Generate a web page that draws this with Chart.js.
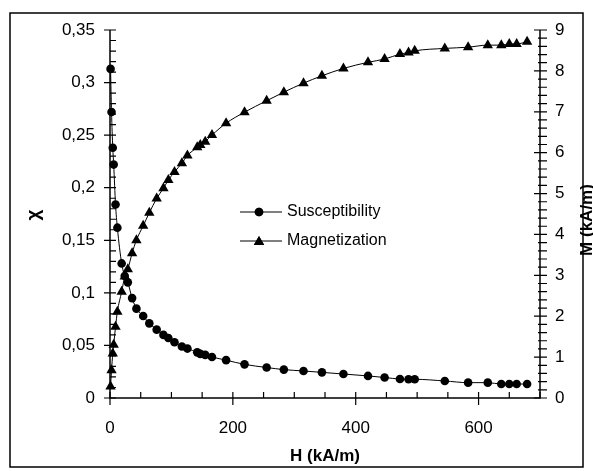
<!DOCTYPE html>
<html>
<head>
<meta charset="utf-8">
<script src="https://cdn.jsdelivr.net/npm/chart.js@4/dist/chart.umd.min.js"></script>
<style>
  html, body { margin: 0; padding: 0; background: #fff; }
</style>
</head>
<body>
<canvas id="chart" width="593" height="471"></canvas>
<script>
// field strength H (kA/m), shared by both curves
const fieldH = [0.9, 2.5, 4.5, 6, 9, 12, 19, 24, 29, 36, 43, 54, 64, 76, 87, 95, 105, 117, 126,
  142, 147, 155, 166, 189, 219, 255, 283, 315, 345, 380, 420, 447, 472, 486, 496, 545, 583,
  615, 637, 650, 662, 679];
// susceptibility chi (left axis)
const susceptibility = [0.313, 0.272, 0.238, 0.222, 0.184, 0.162, 0.128, 0.116, 0.110, 0.095,
  0.085, 0.078, 0.071, 0.065, 0.060, 0.057, 0.053, 0.049, 0.047, 0.0434, 0.042, 0.041, 0.039,
  0.036, 0.032, 0.029, 0.027, 0.0257, 0.0244, 0.0228, 0.021, 0.0195, 0.018, 0.0178, 0.0178,
  0.0162, 0.0146, 0.0146, 0.0133, 0.0133, 0.0133, 0.0133];
// magnetization M (kA/m, right axis)
const magnetization = [0.28, 0.68, 1.09, 1.30, 1.74, 2.11, 2.60, 2.97, 3.15, 3.54, 3.86, 4.21,
  4.53, 4.88, 5.13, 5.33, 5.53, 5.74, 5.93, 6.13, 6.19, 6.27, 6.43, 6.72, 6.99, 7.27, 7.48,
  7.70, 7.88, 8.06, 8.21, 8.29, 8.41, 8.45, 8.49, 8.55, 8.58, 8.63, 8.63, 8.66, 8.66, 8.71];

const hTicks = [0, 200, 400, 600];
const chiTicks = [0, 0.05, 0.1, 0.15, 0.2, 0.25, 0.3, 0.35];
const mTicks = [0, 1, 2, 3, 4, 5, 6, 7, 8, 9];

const FONT = 'Liberation Sans, Arial, sans-serif';
const tickFont = {family: FONT, size: 17};

const pts = (vals) => fieldH.map((h, i) => ({x: h, y: vals[i]}));
const commaNum = (v) => String(+v.toFixed(2)).replace('.', ',');

const decor = {
  id: 'decor',
  afterDraw(chart) {
    const ctx = chart.ctx;
    const {x, y, y2} = chart.scales;
    const a = chart.chartArea;
    ctx.save();
    ctx.strokeStyle = '#000';
    ctx.fillStyle = '#000';

    // outer frame
    ctx.lineWidth = 1.5;
    ctx.strokeRect(10, 13, 573, 454);

    // axis lines
    ctx.lineWidth = 1.5;
    ctx.beginPath();
    ctx.moveTo(a.left, a.top); ctx.lineTo(a.left, a.bottom);
    ctx.lineTo(a.right, a.bottom); ctx.lineTo(a.right, a.top);
    ctx.stroke();

    // tick marks
    ctx.lineWidth = 1.2;
    ctx.beginPath();
    for (let v = 0; v <= 700; v += 50) {
      const px = x.getPixelForValue(v);
      const major = hTicks.includes(v);
      ctx.moveTo(px, a.bottom + (major ? 7 : 0));
      ctx.lineTo(px, a.bottom - 6);
    }
    for (let i = 0; i <= 35; i++) {
      const py = y.getPixelForValue(i / 100);
      const major = i % 5 === 0;
      ctx.moveTo(a.left - (major ? 6 : 0), py);
      ctx.lineTo(a.left + 6, py);
    }
    for (let i = 0; i <= 45; i++) {
      const py = y2.getPixelForValue(i / 5);
      const major = i % 5 === 0;
      ctx.moveTo(a.right - (major ? 6 : 2), py);
      ctx.lineTo(a.right + 7, py);
    }
    ctx.stroke();

    // legend
    const legend = [
      {label: 'Susceptibility', style: 'circle', r: 4.3, y: 212},
      {label: 'Magnetization', style: 'triangle', r: 6, y: 241},
    ];
    ctx.font = '16px ' + FONT;
    ctx.textBaseline = 'middle';
    ctx.textAlign = 'left';
    legend.forEach(item => {
      ctx.lineWidth = 1;
      ctx.beginPath();
      ctx.moveTo(240, item.y); ctx.lineTo(282, item.y);
      ctx.stroke();
      Chart.helpers.drawPoint(ctx, {pointStyle: item.style, radius: item.r, borderWidth: 0},
        259, item.y + (item.style === 'triangle' ? 1 : 0));
      ctx.fill();
      ctx.fillText(item.label, 287, item.y);
    });

    // axis titles
    ctx.font = 'bold 17px ' + FONT;
    ctx.textAlign = 'center';
    ctx.fillText('H (kA/m)', (a.left + a.right) / 2, 456);

    ctx.save();
    ctx.translate(34, 215);
    ctx.rotate(-Math.PI / 2);
    ctx.font = 'bold 19px ' + FONT;
    ctx.fillText('\u03c7', 0, 0);
    ctx.restore();

    ctx.save();
    ctx.translate(587, 220);
    ctx.rotate(-Math.PI / 2);
    ctx.font = 'bold 17px ' + FONT;
    ctx.fillText('M (kA/m)', 0, 0);
    ctx.restore();

    ctx.restore();
  }
};

new Chart(document.getElementById('chart'), {
  type: 'scatter',
  data: {
    datasets: [
      {
        label: 'Susceptibility',
        data: pts(susceptibility),
        yAxisID: 'y',
        showLine: true,
        borderColor: '#000',
        borderWidth: 1,
        cubicInterpolationMode: 'monotone',
        pointStyle: 'circle',
        pointRadius: 4.3,
        pointBackgroundColor: '#000',
        pointBorderWidth: 0,
        clip: false,
      },
      {
        label: 'Magnetization',
        data: pts(magnetization),
        yAxisID: 'y2',
        showLine: true,
        borderColor: '#000',
        borderWidth: 1,
        cubicInterpolationMode: 'monotone',
        pointStyle: 'triangle',
        pointRadius: 6,
        pointBackgroundColor: '#000',
        pointBorderWidth: 0,
        clip: false,
      },
    ],
  },
  options: {
    responsive: false,
    animation: false,
    devicePixelRatio: 1,
    layout: {padding: {top: 30, left: 0, right: 0, bottom: 0}},
    plugins: {legend: {display: false}, tooltip: {enabled: false}},
    scales: {
      x: {
        type: 'linear',
        position: 'bottom',
        min: 0,
        max: 700,
        grid: {display: false, drawTicks: false},
        border: {display: false},
        ticks: {padding: 20, font: tickFont, color: '#000', autoSkip: false, maxRotation: 0},
        afterBuildTicks: s => { s.ticks = hTicks.map(v => ({value: v})); },
        afterFit: s => { s.height = 73; },
      },
      y: {
        position: 'left',
        min: 0,
        max: 0.35,
        grid: {display: false, drawTicks: false},
        border: {display: false},
        ticks: {padding: 15, font: tickFont, color: '#000', autoSkip: false, callback: v => commaNum(v)},
        afterBuildTicks: s => { s.ticks = chiTicks.map(v => ({value: v})); },
        afterFit: s => { s.width = 110; },
      },
      y2: {
        position: 'right',
        min: 0,
        max: 9,
        grid: {display: false, drawTicks: false},
        border: {display: false},
        ticks: {padding: 15, font: tickFont, color: '#000', autoSkip: false},
        afterBuildTicks: s => { s.ticks = mTicks.map(v => ({value: v})); },
        afterFit: s => { s.width = 53; },
      },
    },
  },
  plugins: [decor],
});
</script>
</body>
</html>
